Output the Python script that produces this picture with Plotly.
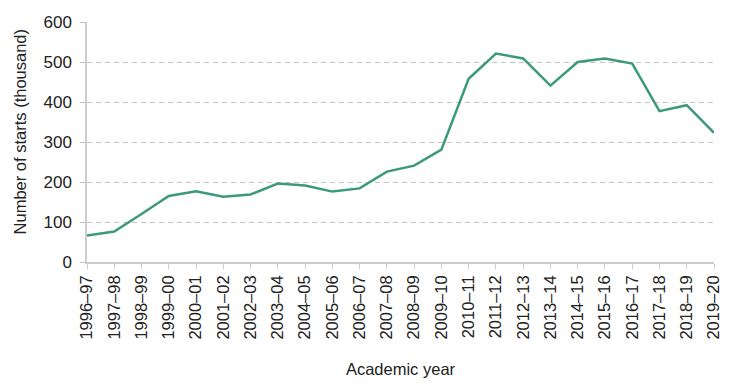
import plotly.graph_objects as go

years = ["1996–97","1997–98","1998–99","1999–00","2000–01","2001–02","2002–03","2003–04",
         "2004–05","2005–06","2006–07","2007–08","2008–09","2009–10","2010–11","2011–12",
         "2012–13","2013–14","2014–15","2015–16","2016–17","2017–18","2018–19","2019–20"]
starts = [66, 76, 120, 165, 177, 163, 169, 196, 191, 176, 184, 226, 241, 281, 458, 521,
          509, 441, 500, 509, 496, 377, 392, 323]
y_ticks = [0, 100, 200, 300, 400, 500, 600]

fig = go.Figure()
fig.add_trace(go.Scatter(x=years, y=starts, mode="lines",
                         line=dict(color="#3D9A78", width=2.5), showlegend=False))

font = "Liberation Sans, Arial, sans-serif"
fig.update_layout(
    width=742, height=378,
    margin=dict(l=79, r=36, t=14, b=124),
    plot_bgcolor="white", paper_bgcolor="white",
    font=dict(family=font, size=16, color="#222"),
    xaxis=dict(
        type="category", range=[0, 23], tickangle=-90, automargin=False,
        showgrid=False, showline=True, linecolor="#cccccc", linewidth=1.5,
        ticks="outside", ticklen=5, tickcolor="#cccccc",
        tickfont=dict(size=16.5),
        title=dict(text="Academic year", font=dict(size=16.5), standoff=25),
    ),
    yaxis=dict(
        range=[0, 600], tickvals=y_ticks, showgrid=True, gridcolor="#c4c4c4",
        griddash="5px,4px", gridwidth=1.2, showline=True, linecolor="#cccccc", linewidth=1.5,
        zeroline=False, ticks="outside", ticklen=5, tickcolor="#c4c4c4", tickwidth=1.2,
        ticklabelstandoff=5,
        automargin=False, tickfont=dict(size=17),
    ),
    annotations=[dict(
        text="Number of starts (thousand)", textangle=-90, showarrow=False,
        xref="paper", yref="paper", x=0, y=0.54, xshift=-67,
        xanchor="center", yanchor="middle", font=dict(size=16.5, color="#222"),
    )],
)
fig.write_html("out.html")
